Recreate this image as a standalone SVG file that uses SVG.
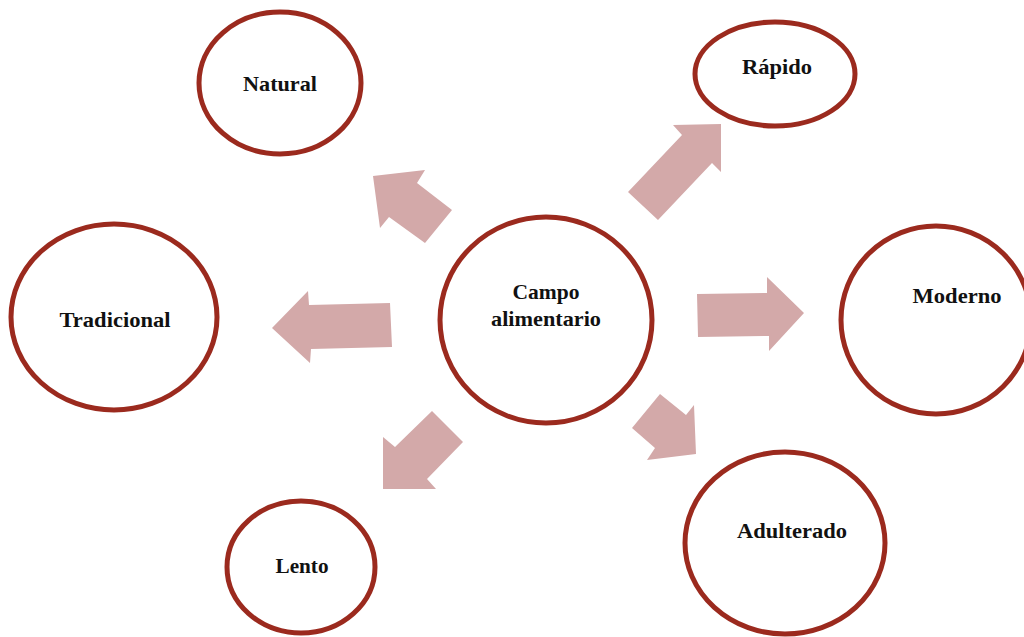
<svg xmlns="http://www.w3.org/2000/svg" width="1024" height="637" viewBox="0 0 1024 637">
  <style>
    .node { fill: #ffffff; stroke: #9b2a1e; stroke-width: 5; }
    .arrow { fill: #d3a9a9; stroke: none; }
    .label { font-family: "Liberation Serif", "Times New Roman", serif; font-weight: bold; font-size: 21px; fill: #111111; text-anchor: middle; }
  </style>
  <rect width="1024" height="637" fill="#ffffff"/>

  <!-- block arrows radiating from the centre -->
  <g id="connectors">
    <polygon class="arrow" points="373,176 425,170 417,183 452,210 425,243 389,217 380,228"/>
    <polygon class="arrow" points="721,124 721,172 712,163 658,220 628,192 682,135 673,125"/>
    <polygon class="arrow" points="272,328 308,291 309,305 390,303 392,347 311,349 310,363"/>
    <polygon class="arrow" points="804,313 767,277 767,293 697,294 698,337 769,336 769,351"/>
    <polygon class="arrow" points="383,489 383,437 395,447 432,411 463,442 427,479 436,489"/>
    <polygon class="arrow" points="696,454 694,405 686,415 660,394 632,428 655,448 647,460"/>
  </g>

  <g id="node-campo">
    <ellipse class="node" cx="546" cy="320" rx="106" ry="103"/>
    <text class="label" x="546" y="299" textLength="67" lengthAdjust="spacingAndGlyphs">Campo</text>
    <text class="label" x="546" y="326" textLength="110" lengthAdjust="spacingAndGlyphs">alimentario</text>
  </g>
  <g id="node-natural">
    <ellipse class="node" cx="280" cy="83" rx="81" ry="71"/>
    <text class="label" x="280" y="91" textLength="74" lengthAdjust="spacingAndGlyphs">Natural</text>
  </g>
  <g id="node-rapido">
    <ellipse class="node" cx="775" cy="74" rx="80" ry="52"/>
    <text class="label" x="777" y="74" textLength="70" lengthAdjust="spacingAndGlyphs">Rápido</text>
  </g>
  <g id="node-tradicional">
    <ellipse class="node" cx="114" cy="317" rx="103" ry="93"/>
    <text class="label" x="115" y="327" textLength="111" lengthAdjust="spacingAndGlyphs">Tradicional</text>
  </g>
  <g id="node-moderno">
    <ellipse class="node" cx="936" cy="320" rx="95" ry="94"/>
    <text class="label" x="957" y="303" textLength="89" lengthAdjust="spacingAndGlyphs">Moderno</text>
  </g>
  <g id="node-lento">
    <ellipse class="node" cx="301" cy="567" rx="74" ry="66"/>
    <text class="label" x="302" y="573" textLength="53" lengthAdjust="spacingAndGlyphs">Lento</text>
  </g>
  <g id="node-adulterado">
    <ellipse class="node" cx="785" cy="543" rx="100" ry="91"/>
    <text class="label" x="792" y="538" textLength="110" lengthAdjust="spacingAndGlyphs">Adulterado</text>
  </g>
</svg>
